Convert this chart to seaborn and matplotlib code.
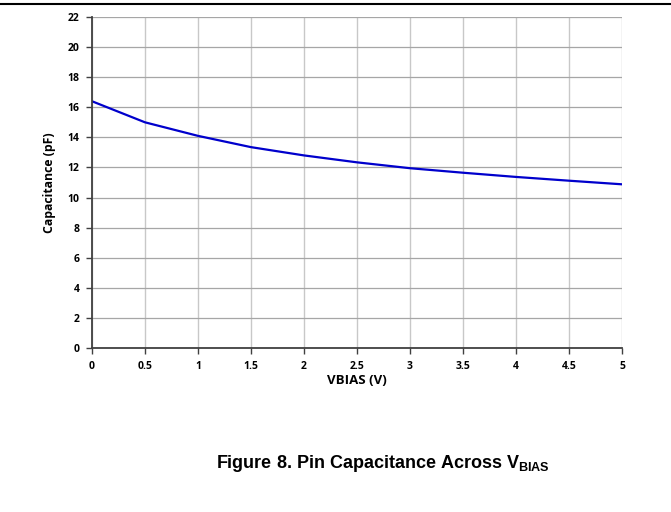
import seaborn as sns
import matplotlib.pyplot as plt
import matplotlib.lines as mlines
import pandas as pd

# Pin capacitance vs bias voltage
vbias = [0, 0.5, 1, 1.5, 2, 2.5, 3, 3.5, 4, 4.5, 5]
capacitance = [16.4, 15.0, 14.1, 13.35, 12.8, 12.34, 11.95, 11.65, 11.37, 11.12, 10.88]
x_ticks = [0, 0.5, 1, 1.5, 2, 2.5, 3, 3.5, 4, 4.5, 5]
x_tick_labels = ['0', '0.5', '1', '1.5', '2', '2.5', '3', '3.5', '4', '4.5', '5']
y_ticks = [0, 2, 4, 6, 8, 10, 12, 14, 16, 18, 20, 22]

df = pd.DataFrame({'vbias': vbias, 'cap': capacitance})

sns.set_style('white')
plt.rcParams['font.family'] = ['Open Sans', 'DejaVu Sans']
plt.rcParams['mathtext.fontset'] = 'custom'
plt.rcParams['mathtext.bf'] = 'Liberation Sans:bold'
plt.rcParams['mathtext.rm'] = 'Liberation Sans'
plt.rcParams['text.color'] = 'black'
plt.rcParams['axes.labelcolor'] = 'black'
plt.rcParams['xtick.labelcolor'] = 'black'
plt.rcParams['ytick.labelcolor'] = 'black'

fig = plt.figure(figsize=(6.71, 5.12), dpi=100)
ax = fig.add_axes([0.1371, 0.3203, 0.7899, 0.6465])

sns.lineplot(data=df, x='vbias', y='cap', color='#0000cc', linewidth=1.6, ax=ax)

ax.set_xlim(0, 5)
ax.set_ylim(0, 22)
ax.set_xticks(x_ticks)
ax.set_xticklabels(x_tick_labels)
ax.set_yticks(y_ticks)
for lab in ax.get_xticklabels() + ax.get_yticklabels():
    lab.set_fontweight('bold')
    lab.set_fontsize(7.5)

ax.grid(True, color='#a6a6a6', linewidth=0.9)
ax.xaxis.grid(True, color='#c8c8c8', linewidth=1.0)
ax.tick_params(axis='both', direction='out', length=4, width=1, color='#404040', pad=5)
ax.tick_params(left=True, bottom=True)

for s in ['top', 'right']:
    ax.spines[s].set_visible(False)
for s in ['left', 'bottom']:
    ax.spines[s].set_color('#404040')
    ax.spines[s].set_linewidth(1.3)

ax.set_xlabel('VBIAS (V)', fontsize=9.5, fontweight='bold', labelpad=2)
ax.set_ylabel('Capacitance (pF)', fontsize=8.8, fontweight='bold', labelpad=8)

# top rule
fig.add_artist(mlines.Line2D([0, 1], [0.992, 0.992], color='black', linewidth=1.5))

fig.text(0.570, 0.094, r'Figure 8. Pin Capacitance Across V$_{\mathbf{BIAS}}$',
         ha='center', va='center', fontsize=13, fontweight='bold',
         family='Liberation Sans', color='black')

plt.savefig('out.png', dpi=100)
